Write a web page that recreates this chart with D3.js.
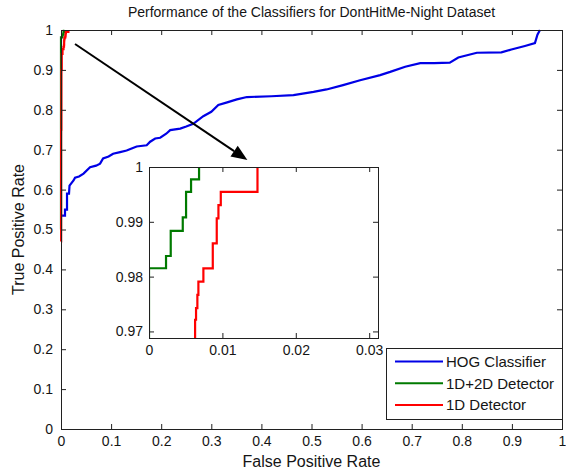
<!DOCTYPE html>
<html><head><meta charset="utf-8">
<script src="https://cdn.jsdelivr.net/npm/d3@7/dist/d3.min.js"></script>
<style>
body{margin:0;background:#fff}
text{font-family:"Liberation Sans",Arial,Helvetica,sans-serif;fill:#151515}
</style>
</head><body>
<svg id="chart" width="566" height="470"></svg>
<script>
// ---------------- data ----------------
const titleText = "Performance of the Classifiers for DontHitMe-Night Dataset";
const xLabelText = "False Positive Rate";
const yLabelText = "True Positive Rate";
const seriesNames = ["HOG Classifier", "1D+2D Detector", "1D Detector"];
const seriesColors = ["#0000e6", "#007a00", "#ff0000"];

const xTicks = [0, 0.1, 0.2, 0.3, 0.4, 0.5, 0.6, 0.7, 0.8, 0.9, 1];
const yTicks = [0, 0.1, 0.2, 0.3, 0.4, 0.5, 0.6, 0.7, 0.8, 0.9, 1];
const insetXTicks = [0, 0.01, 0.02, 0.03];
const insetYTicks = [0.97, 0.98, 0.99, 1];
const insetXDomain = [0, 0.0312];
const insetYDomain = [0.9688, 1];

// HOG classifier ROC (false positive rate, true positive rate)
const hogFpr = [0, 0.008, 0.008, 0.012, 0.012, 0.016, 0.017, 0.025, 0.028, 0.036,
  0.045, 0.058, 0.070, 0.078, 0.084, 0.095, 0.104, 0.118, 0.131, 0.141,
  0.151, 0.171, 0.178, 0.188, 0.198, 0.210, 0.218, 0.238, 0.250, 0.264,
  0.284, 0.300, 0.314, 0.330, 0.351, 0.371, 0.420, 0.464, 0.504, 0.530,
  0.563, 0.597, 0.637, 0.657, 0.687, 0.717, 0.745, 0.776, 0.793, 0.830,
  0.879, 0.899, 0.926, 0.946, 0.951, 0.956];
const hogTpr = [0.535, 0.535, 0.550, 0.550, 0.590, 0.590, 0.610, 0.623, 0.630, 0.633,
  0.640, 0.656, 0.660, 0.665, 0.678, 0.683, 0.690, 0.694, 0.698, 0.703,
  0.708, 0.711, 0.720, 0.728, 0.730, 0.740, 0.749, 0.753, 0.758, 0.765,
  0.784, 0.795, 0.812, 0.818, 0.826, 0.832, 0.834, 0.837, 0.845, 0.851,
  0.862, 0.874, 0.887, 0.895, 0.908, 0.917, 0.917, 0.918, 0.931, 0.943,
  0.944, 0.951, 0.960, 0.967, 0.988, 1.0];

// 1D+2D detector ROC (step points)
const d12Fpr = [0, 0, 0.00232, 0.00296, 0.00460, 0.00505, 0.00573, 0.00682];
const d12Tpr = [0.50, 0.98153, 0.98376, 0.98836, 0.99080, 0.99545, 0.99776, 1.0];

// 1D detector ROC (step points)
const d1Fpr = [0, 0.0003, 0.0008, 0.0015, 0.0030, 0.0050, 0.0060, 0.00628, 0.00641, 0.00659,
  0.00673, 0.00741, 0.00869, 0.00923, 0.00946, 0.00978, 0.01478];
const d1Tpr = [0.47, 0.75, 0.90, 0.94, 0.952, 0.958, 0.963, 0.97213, 0.97425, 0.97667,
  0.97909, 0.98152, 0.98607, 0.99061, 0.99304, 0.99545, 1.0];

// annotation arrow, in main-axis data units
const arrowFrom = [0.028, 0.965];
const arrowTo = [0.372, 0.674];

// ---------------- layout ----------------
const svg = d3.select("#chart");
const M = {left: 61, right: 562, top: 30, bottom: 429};
const IN = {left: 149, right: 378, top: 167, bottom: 338};
const axisColor = "#202020";

const x = d3.scaleLinear().domain([0, 1]).range([M.left, M.right]);
const y = d3.scaleLinear().domain([0, 1]).range([M.bottom, M.top]);
const xi = d3.scaleLinear().domain(insetXDomain).range([IN.left, IN.right]);
const yi = d3.scaleLinear().domain(insetYDomain).range([IN.bottom, IN.top]);

const zip = (a, b) => a.map((v, i) => [v, b[i]]);
const seriesPts = [zip(hogFpr, hogTpr), zip(d12Fpr, d12Tpr), zip(d1Fpr, d1Tpr)];
const seriesCurves = [d3.curveLinear, d3.curveStepAfter, d3.curveStepAfter];

function drawBoxAxes(g, xs, ys, xt, yt, padX, padY, fs) {
  const [x0, x1] = xs.range(), [y0, y1] = ys.range();
  const style = sel => {
    sel.select(".domain").remove();
    sel.selectAll(".tick line").attr("stroke", axisColor);
    sel.selectAll(".tick text").style("font-size", fs + "px").attr("fill", "#151515");
  };
  g.append("g").attr("transform", `translate(0,${y0})`)
    .call(d3.axisBottom(xs).tickValues(xt).tickSizeInner(-5).tickSizeOuter(0).tickPadding(padX).tickFormat(d => String(d)))
    .call(style);
  g.append("g").attr("transform", `translate(0,${y1})`)
    .call(d3.axisTop(xs).tickValues(xt).tickSizeInner(-5).tickSizeOuter(0).tickFormat(""))
    .call(style);
  g.append("g").attr("transform", `translate(${x0},0)`)
    .call(d3.axisLeft(ys).tickValues(yt).tickSizeInner(-5).tickSizeOuter(0).tickPadding(padY).tickFormat(d => String(d)))
    .call(style);
  g.append("g").attr("transform", `translate(${x1},0)`)
    .call(d3.axisRight(ys).tickValues(yt).tickSizeInner(-5).tickSizeOuter(0).tickFormat(""))
    .call(style);
  g.selectAll("text").attr("font-family", null);
  g.append("rect").attr("x", x0 + 0.5).attr("y", y1 + 0.5)
    .attr("width", x1 - x0).attr("height", y0 - y1)
    .attr("fill", "none").attr("stroke", axisColor).attr("stroke-width", 1);
}

// ---------------- main axes ----------------
const main = svg.append("g");
seriesPts.forEach((pts, i) => {
  main.append("path").datum(pts)
    .attr("d", d3.line().x(d => x(d[0])).y(d => y(d[1])).curve(seriesCurves[i]))
    .attr("fill", "none").attr("stroke", seriesColors[i]).attr("stroke-width", 2.2)
    .attr("stroke-linejoin", "miter");
});
drawBoxAxes(main, x, y, xTicks, yTicks, 7, 8, 14);

// title & labels
svg.append("text").attr("x", (M.left + M.right) / 2).attr("y", 17)
  .attr("text-anchor", "middle").style("font-size", "14px").text(titleText);
svg.append("text").attr("x", (M.left + M.right) / 2).attr("y", 467)
  .attr("text-anchor", "middle").style("font-size", "16px").text(xLabelText);
svg.append("text").attr("transform", `translate(24,${(M.top + M.bottom) / 2}) rotate(-90)`)
  .attr("text-anchor", "middle").style("font-size", "16px").text(yLabelText);

// arrow
const ax0 = x(arrowFrom[0]), ay0 = y(arrowFrom[1]), ax1 = x(arrowTo[0]), ay1 = y(arrowTo[1]);
const ang = Math.atan2(ay1 - ay0, ax1 - ax0);
const headL = 16, headW = 6.5;
const bx = ax1 - headL * Math.cos(ang), by = ay1 - headL * Math.sin(ang);
svg.append("line").attr("x1", ax0).attr("y1", ay0).attr("x2", bx).attr("y2", by)
  .attr("stroke", "#000").attr("stroke-width", 2);
svg.append("path")
  .attr("d", `M${ax1},${ay1}L${bx + headW * Math.sin(ang)},${by - headW * Math.cos(ang)}L${bx - headW * Math.sin(ang)},${by + headW * Math.cos(ang)}Z`)
  .attr("fill", "#000");

// ---------------- inset ----------------
const inset = svg.append("g");
inset.append("rect").attr("x", IN.left).attr("y", IN.top)
  .attr("width", IN.right - IN.left).attr("height", IN.bottom - IN.top).attr("fill", "#fff");
svg.append("defs").append("clipPath").attr("id", "insetClip").append("rect")
  .attr("x", IN.left + 1).attr("y", IN.top - 1).attr("width", IN.right - IN.left).attr("height", IN.bottom - IN.top + 1);
const insetLines = inset.append("g").attr("clip-path", "url(#insetClip)");
[1, 2].forEach(i => {
  insetLines.append("path").datum(seriesPts[i])
    .attr("d", d3.line().x(d => xi(d[0])).y(d => yi(d[1])).curve(seriesCurves[i]))
    .attr("fill", "none").attr("stroke", seriesColors[i]).attr("stroke-width", 2.2);
});
drawBoxAxes(inset, xi, yi, insetXTicks, insetYTicks, 7, 6, 14);

// ---------------- legend ----------------
const L = {x: 386, y: 348, w: 176, h: 71};
const leg = svg.append("g");
leg.append("rect").attr("x", L.x + 0.5).attr("y", L.y + 0.5).attr("width", L.w).attr("height", L.h)
  .attr("fill", "#fff").attr("stroke", axisColor);
const rowY = d3.scalePoint().domain(seriesNames).range([L.y + 13.5, L.y + 57]);
seriesNames.forEach((n, i) => {
  leg.append("line").attr("x1", L.x + 9).attr("x2", L.x + 57)
    .attr("y1", rowY(n)).attr("y2", rowY(n))
    .attr("stroke", seriesColors[i]).attr("stroke-width", 2.2);
  leg.append("text").attr("x", L.x + 60).attr("y", rowY(n)).attr("dy", "0.36em")
    .style("font-size", "15px").text(n);
});
</script>
</body></html>
